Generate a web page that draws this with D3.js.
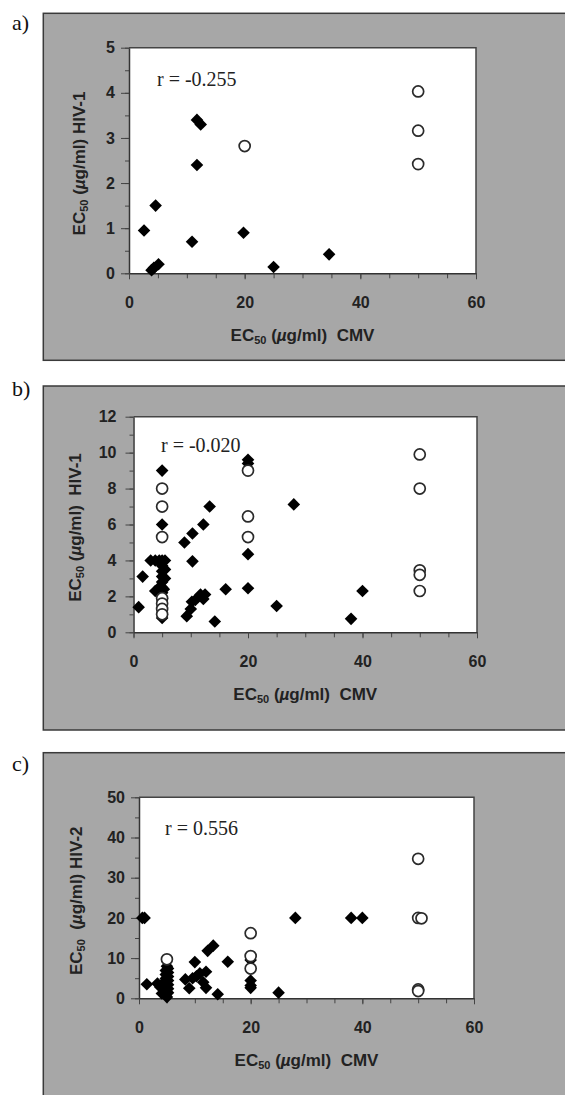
<!DOCTYPE html>
<html>
<head>
<meta charset="utf-8">
<script src="https://cdn.jsdelivr.net/npm/d3@7"></script>
<style>
  body { margin: 0; background: #fff; }
  svg { display: block; }
  .tick text { font-family: "Liberation Sans", Arial, sans-serif; font-weight: bold; font-size: 16px; fill: #222; }
</style>
</head>
<body>
<div id="chart"></div>
<script>
// a) CMV vs HIV-1 (first set)
const aFilled = [[2.6, 0.95], [4.6, 1.5], [3.9, 0.07], [4.3, 0.12], [5.1, 0.2], [10.9, 0.7],
    [11.75, 2.4], [11.75, 3.4], [12.4, 3.3], [19.8, 0.9], [25, 0.14], [34.6, 0.42]];
const aOpen = [[20, 2.82], [50, 4.03], [50, 3.16], [50, 2.42]];

// b) CMV vs HIV-1
const bFilled = [[0.9, 1.4], [1.6, 3.1], [3.0, 4.0], [3.8, 4.0], [4.5, 4.0], [5.5, 4.0], [3.8, 2.3],
    [4.5, 2.5], [5, 9], [5, 6], [5, 4.0], [5, 3.7], [5, 3.4], [5, 3.1], [5, 2.8], [5, 2.5], [5, 2.2],
    [5, 1.9], [5, 0.8], [5, 1.0], [5.5, 3.5], [5.5, 3.0], [5.3, 2.4], [8.9, 5], [9.3, 0.9], [10.3, 5.5],
    [10.3, 3.95], [10, 1.3], [10.2, 1.7], [10.8, 1.8], [12.2, 6], [11.7, 2.1], [12.2, 1.85], [12.5, 2.1],
    [13.3, 7], [14.2, 0.6], [16.1, 2.4], [20, 9.6], [20, 9.4], [20, 4.35], [20, 2.45], [25, 1.46],
    [28, 7.12], [40, 2.3], [38, 0.75]];
const bOpen = [[5, 8], [5, 7], [5, 5.3], [5, 1.9], [5, 1.6], [5, 1.3], [5, 1.0], [20, 9], [20, 6.45],
    [20, 5.3], [50, 9.9], [50, 8], [50, 3.45], [50, 3.2], [50, 2.3]];

// c) CMV vs HIV-2
const cFilled = [[0.6, 20], [1.0, 20], [1.4, 3.5], [3.3, 3.7], [3.8, 2.8], [4.1, 1.2], [4.5, 4.0], [4.5, 2.0],
    [5, 0.3], [4.8, 0.9], [5.2, 1.4], [4.8, 1.9], [5.2, 2.4], [4.8, 2.9], [5.2, 3.4], [4.8, 3.9], [5.2, 4.4],
    [4.8, 4.9], [5.2, 5.4], [4.8, 5.9], [5.2, 6.4], [4.8, 6.9], [5.2, 7.4], [5, 8.0],
    [8.3, 4.7], [9.0, 2.5], [9.6, 5.0], [10, 9], [10.3, 5.5], [10.9, 6.2], [11.5, 4.0], [12, 6.6],
    [12, 2.6], [12.3, 11.8], [13.3, 13.1], [14.1, 1.0], [15.9, 9.1], [20, 9.5], [20, 4.4], [20, 3.2],
    [20, 2.6], [25, 1.4], [28, 20], [38, 20], [40, 20]];
const cOpen = [[5, 9.7], [20, 16.2], [20, 10.5], [20, 7.4], [50, 34.7], [50, 20], [50.6, 19.9],
    [50, 2.2], [50, 1.8]];

const xTicks = [0, 20, 40, 60];
const rValues = ["r = -0.255", "r = -0.020", "r = 0.556"];
const yMaxes = [5, 12, 50];
const yMajorSteps = [1, 2, 10];
const virusNames = ["HIV-1", "HIV-1", "HIV-2"];
const panelTags = ["a)", "b)", "c)"];

const width = 565, height = 1095;

// layout for each panel (pixels)
const layout = [
    {boxTop: 13.3, boxH: 347, left: 129, right: 476, top: 47.7, bottom: 273.3, tagY: 30, rX: 157, rY: 86, yPad: 6, titleX: 85, preGap: " ", midGap: " "},
    {boxTop: 386, boxH: 344, left: 133.5, right: 477, top: 416.7, bottom: 632.3, tagY: 396, rX: 161, rY: 452, yPad: 9, titleX: 81, preGap: " ", midGap: "\u00a0\u00a0"},
    {boxTop: 752.7, boxH: 400, left: 139, right: 474, top: 797.3, bottom: 998.3, tagY: 771, rX: 165, rY: 835, yPad: 6, titleX: 82, preGap: "\u00a0\u00a0", midGap: " "}
];
const filledSets = [aFilled, bFilled, cFilled];
const openSets = [aOpen, bOpen, cOpen];

const svg = d3.select("#chart").append("svg")
    .attr("width", width)
    .attr("height", height);

svg.append("rect").attr("width", width).attr("height", height).attr("fill", "#fff");

const diamondPath = "M0,-6.3L6.3,0L0,6.3L-6.3,0Z";

// "EC50 (µg/ml) ..." with subscript and italic mu
function ecLabel(sel, gap1, gap2, tail) {
    sel.append("tspan").text("EC");
    sel.append("tspan").attr("font-size", "11px").attr("dy", 3).text("50");
    sel.append("tspan").attr("dy", -3).text(gap1 + "(");
    sel.append("tspan").attr("font-style", "italic").text("\u00b5");
    sel.append("tspan").text("g/ml)" + gap2 + tail);
}

layout.forEach((p, i) => {
    const g = svg.append("g");

    // grey panel box
    g.append("rect")
        .attr("x", 43.3).attr("y", p.boxTop)
        .attr("width", 600).attr("height", p.boxH)
        .attr("fill", "#a7a7a7")
        .attr("stroke", "#3a3a3a")
        .attr("stroke-width", 1.5);

    g.append("text")
        .attr("x", 12).attr("y", p.tagY)
        .attr("font-family", "'Liberation Serif', 'Times New Roman', serif")
        .attr("font-size", "22px")
        .attr("fill", "#111")
        .text(panelTags[i]);

    const x = d3.scaleLinear().domain([0, 60]).range([p.left, p.right]);
    const y = d3.scaleLinear().domain([0, yMaxes[i]]).range([p.bottom, p.top]);

    // white plot area with top/right frame
    g.append("rect")
        .attr("x", p.left).attr("y", p.top)
        .attr("width", p.right - p.left).attr("height", p.bottom - p.top)
        .attr("fill", "#fff");
    g.append("path")
        .attr("d", `M${p.left},${p.top}H${p.right}V${p.bottom}`)
        .attr("fill", "none")
        .attr("stroke", "#444")
        .attr("stroke-width", 1.5);

    const yMajor = d3.range(0, yMaxes[i] + 0.001, yMajorSteps[i]);
    const yMinor = d3.range(0, yMaxes[i] + 0.001, yMajorSteps[i] / 2);

    g.append("g")
        .attr("transform", `translate(${p.left},0)`)
        .call(d3.axisLeft(y).tickValues(yMinor).tickSize(4).tickSizeOuter(0).tickFormat(""))
        .call(a => a.select(".domain").remove())
        .call(a => a.selectAll("line").attr("stroke", "#444"));
    g.append("g")
        .attr("transform", `translate(${p.left},0)`)
        .call(d3.axisLeft(y).tickValues(yMajor).tickSize(8).tickSizeOuter(0).tickPadding(p.yPad).tickFormat(d3.format("d")))
        .call(a => a.select(".domain").attr("stroke", "#333").attr("stroke-width", 1.5))
        .call(a => a.selectAll("line").attr("stroke", "#444"));

    g.append("g")
        .attr("transform", `translate(0,${p.bottom})`)
        .call(d3.axisBottom(x).tickValues(d3.range(0, 61, 5)).tickSize(5).tickSizeOuter(0).tickFormat(""))
        .call(a => a.select(".domain").remove())
        .call(a => a.selectAll("line").attr("stroke", "#444"));
    g.append("g")
        .attr("transform", `translate(0,${p.bottom})`)
        .call(d3.axisBottom(x).tickValues(xTicks).tickSize(6).tickSizeOuter(0).tickPadding(17).tickFormat(d3.format("d")))
        .call(a => a.select(".domain").attr("stroke", "#333").attr("stroke-width", 1.5))
        .call(a => a.selectAll("line").attr("stroke", "#444"));

    // axis titles
    const xt = g.append("text")
        .attr("x", (p.left + p.right) / 2)
        .attr("y", p.bottom + 68)
        .attr("text-anchor", "middle")
        .attr("font-family", "'Liberation Sans', Arial, sans-serif")
        .attr("font-weight", "bold")
        .attr("font-size", "17px")
        .attr("fill", "#222");
    ecLabel(xt, " ", "\u00a0\u00a0", "CMV");

    const yt = g.append("text")
        .attr("transform", `translate(${p.titleX},${(p.top + p.bottom) / 2 + 3}) rotate(-90)`)
        .attr("text-anchor", "middle")
        .attr("font-family", "'Liberation Sans', Arial, sans-serif")
        .attr("font-weight", "bold")
        .attr("font-size", "17px")
        .attr("fill", "#222");
    ecLabel(yt, p.preGap, p.midGap, virusNames[i]);

    g.append("text")
        .attr("x", p.rX).attr("y", p.rY)
        .attr("font-family", "'Liberation Serif', 'Times New Roman', serif")
        .attr("font-size", "20px")
        .attr("fill", "#222")
        .text(rValues[i]);

    g.append("g").selectAll("path")
        .data(filledSets[i])
        .join("path")
        .attr("d", diamondPath)
        .attr("transform", d => `translate(${x(d[0])},${y(d[1])})`)
        .attr("fill", "#000");

    g.append("g").selectAll("circle")
        .data(openSets[i])
        .join("circle")
        .attr("cx", d => x(d[0]))
        .attr("cy", d => y(d[1]))
        .attr("r", 5.5)
        .attr("fill", "#fff")
        .attr("stroke", "#2a2a2a")
        .attr("stroke-width", 1.7);
});
</script>
</body>
</html>
